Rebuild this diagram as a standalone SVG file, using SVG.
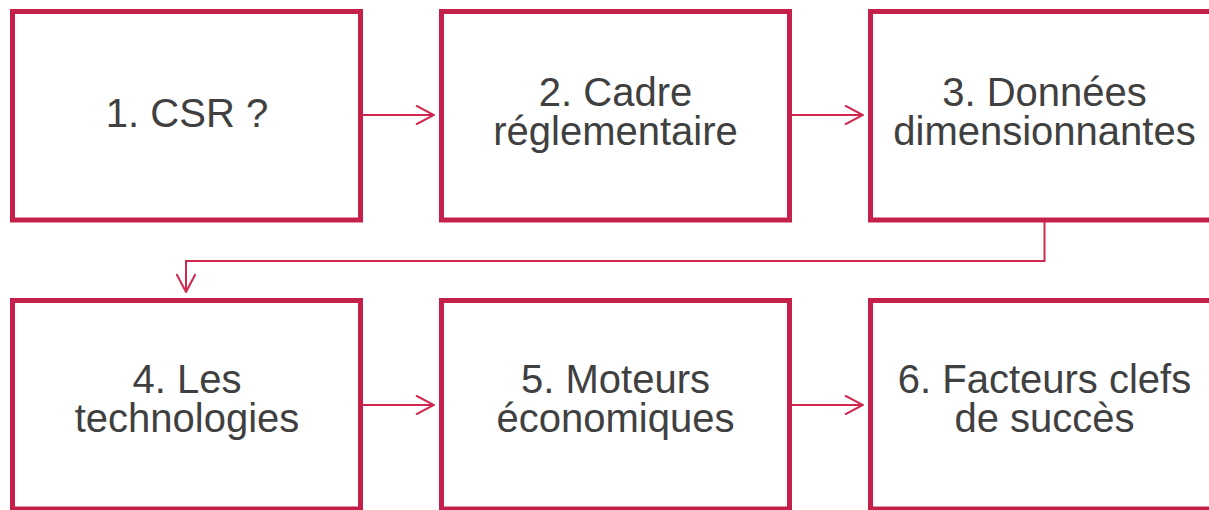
<svg xmlns="http://www.w3.org/2000/svg" width="1209" height="510" viewBox="0 0 1209 510">
  <defs>
    <style>
      .box { fill: #ffffff; stroke: #C4204A; stroke-width: 5; }
      .lbl { font-family: "Liberation Sans", Arial, sans-serif; font-size: 40px; fill: #404040; text-anchor: middle; }
      .conn { fill: none; stroke: #D0284F; stroke-width: 2; }
    </style>
    <marker id="arr" viewBox="0 0 20 20" markerWidth="20" markerHeight="20" refX="19" refY="10" orient="auto" markerUnits="userSpaceOnUse">
      <path d="M1,0.5 L19,10 L1,19.5" fill="none" stroke="#D0284F" stroke-width="2"/>
    </marker>
  </defs>
  <rect width="1209" height="510" fill="#ffffff"/>
  <g id="connectors">
    <path class="conn" d="M363,115 L434,115" marker-end="url(#arr)"/>
    <path class="conn" d="M792,115 L863,115" marker-end="url(#arr)"/>
    <path class="conn" d="M1044.5,222 L1044.5,261 L186,261 L186,292" marker-end="url(#arr)"/>
    <path class="conn" d="M363,405 L434,405" marker-end="url(#arr)"/>
    <path class="conn" d="M792,405 L863,405" marker-end="url(#arr)"/>
  </g>
  <g id="node1">
    <rect class="box" x="12.5" y="11.5" width="348" height="208.5"/>
    <text class="lbl" x="187" y="127">1. CSR ?</text>
  </g>
  <g id="node2">
    <rect class="box" x="441.5" y="11.5" width="348" height="208.5"/>
    <text class="lbl" x="615.5" y="106">2. Cadre</text>
    <text class="lbl" x="615.5" y="145">réglementaire</text>
  </g>
  <g id="node3">
    <rect class="box" x="870.5" y="11.5" width="348" height="208.5"/>
    <text class="lbl" x="1044.5" y="106">3. Données</text>
    <text class="lbl" x="1044.5" y="145">dimensionnantes</text>
  </g>
  <g id="node4">
    <rect class="box" x="12.5" y="300.5" width="348" height="208.5"/>
    <text class="lbl" x="187" y="393">4. Les</text>
    <text class="lbl" x="187" y="432">technologies</text>
  </g>
  <g id="node5">
    <rect class="box" x="441.5" y="300.5" width="348" height="208.5"/>
    <text class="lbl" x="615.5" y="393">5. Moteurs</text>
    <text class="lbl" x="615.5" y="432">économiques</text>
  </g>
  <g id="node6">
    <rect class="box" x="870.5" y="300.5" width="348" height="208.5"/>
    <text class="lbl" x="1044.5" y="393">6. Facteurs clefs</text>
    <text class="lbl" x="1044.5" y="432">de succès</text>
  </g>
</svg>
